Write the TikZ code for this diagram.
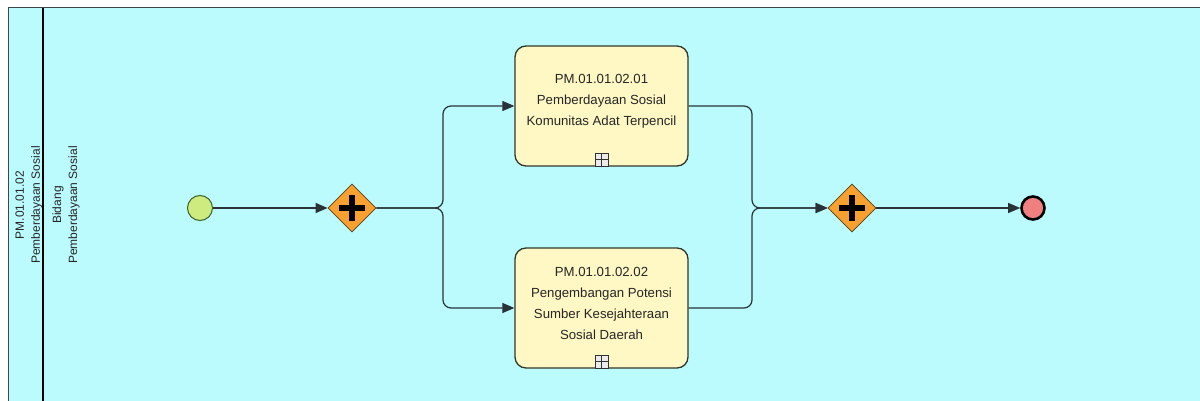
\documentclass[tikz,border=0pt]{standalone}
\usepackage{fontspec}
\setmainfont{Liberation Sans}
\usetikzlibrary{arrows.meta, positioning, shapes.geometric}
\definecolor{poolbg}{RGB}{187,251,253}
\definecolor{poolline}{RGB}{60,70,75}
\definecolor{flowline}{RGB}{40,50,55}
\definecolor{taskfill}{RGB}{255,248,196}
\definecolor{taskline}{RGB}{50,55,45}
\definecolor{startfill}{RGB}{206,235,128}
\definecolor{startline}{RGB}{60,100,40}
\definecolor{gatefill}{RGB}{248,160,48}
\definecolor{gateline}{RGB}{90,60,20}
\definecolor{endfill}{RGB}{240,128,128}

\begin{document}
\begin{tikzpicture}[
  x=1pt, y=-1pt, >={Triangle[length=12pt,width=10pt]},
  every node/.style={font=\fontsize{13.2}{21}\selectfont, text=black!85},
  flow/.style={->, draw=flowline, line width=1.2pt, rounded corners=8pt},
  task/.style={draw=taskline, line width=1.3pt, fill=taskfill, rounded corners=11pt, minimum width=173pt, minimum height=120pt},
  tasktext/.style={align=center, inner sep=0pt},
  marker/.style={draw=black!80, line width=0.7pt, fill=white!92!black, minimum size=13pt, inner sep=0pt,
    path picture={\draw[black!80, line width=0.7pt] (path picture bounding box.north) -- (path picture bounding box.south)
      (path picture bounding box.west) -- (path picture bounding box.east);}},
  gate/.style={diamond, draw=gateline, fill=gatefill, line width=0.8pt, minimum size=48pt, inner sep=0pt,
    path picture={\draw[black, line width=6pt] ([xshift=-13pt]path picture bounding box.center) -- ([xshift=13pt]path picture bounding box.center)
      ([yshift=-13pt]path picture bounding box.center) -- ([yshift=13pt]path picture bounding box.center);}},
  startev/.style={circle, draw=startline, fill=startfill, line width=1pt, minimum size=25pt, inner sep=0pt},
  endev/.style={circle, draw=black, fill=endfill, line width=2.6pt, minimum size=23pt, inner sep=0pt},
  lanetext/.style={rotate=90, align=center, font=\fontsize{12}{16}\selectfont}
]
  \useasboundingbox (0,0) rectangle (1200,401);
  % pool and lane
  \fill[poolbg] (8,8) rectangle (1200,401);
  \draw[poolline, line width=1pt] (8,401) -- (8,8) -- (1200,8);
  \draw[black, line width=2.5pt] (43,8) -- (43,401);
  \node[lanetext] (pool) at (29,205) {PM.01.01.02\\Pemberdayaan Sosial};
  \node[lanetext] (lane) at (66,205) {Bidang\\Pemberdayaan Sosial};

  % events and gateways
  \node[startev] (start) at (200,208) {};
  \node[gate] (g1) at (352,208) {};
  \node[gate] (g2) at (852,208) {};
  \node[endev] (end) at (1033,208) {};

  % sub-processes
  \node[task] (t1) at (601.5,106) {};
  \node[tasktext] (t1txt) at (601.5,101) {PM.01.01.02.01\\Pemberdayaan Sosial\\Komunitas Adat Terpencil};
  \node[marker, above=0pt of t1.south] (m1) {};
  \node[task] (t2) at (601.5,308) {};
  \node[tasktext] (t2txt) at (601.5,303) {PM.01.01.02.02\\Pengembangan Potensi\\Sumber Kesejahteraan\\Sosial Daerah};
  \node[marker, above=0pt of t2.south] (m2) {};

  \coordinate (split) at (443,208);
  \coordinate (join) at (752,208);

  % sequence flows
  \draw[flow] (start) -- (g1);
  \draw[flow] (g1.east) -- (split) |- (t1.west);
  \draw[flow] (g1.east) -- (split) |- (t2.west);
  \draw[flow] (t1.east) -| (join) -- (g2.west);
  \draw[flow] (t2.east) -| (join) -- (g2.west);
  \draw[flow] (g2) -- (end);
\end{tikzpicture}
\end{document}
